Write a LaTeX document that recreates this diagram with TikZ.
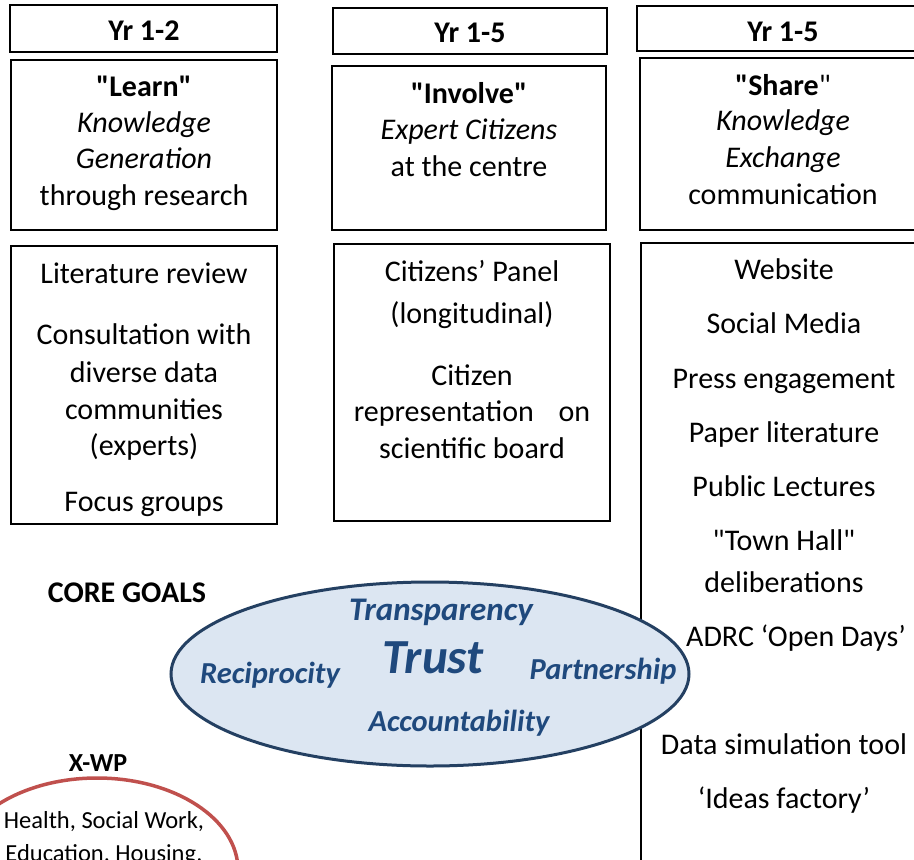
\documentclass[tikz,border=0pt]{standalone}
\usepackage{fontspec}
\setmainfont{Carlito}[Ligatures=TeXOff]
\newcommand\qmark{"}
\definecolor{navy}{RGB}{36,64,98}
\definecolor{paleblue}{RGB}{220,230,242}
\definecolor{goalblue}{RGB}{31,73,125}
\definecolor{redline}{RGB}{192,80,77}
\begin{document}
\begin{tikzpicture}[x=1pt,y=-1pt,
  boxy/.style={draw=black,line width=1.8pt},
  txt/.style={anchor=base,inner sep=0pt,font=\fontsize{30}{32}\selectfont},
  btxt/.style={anchor=base,inner sep=0pt,font=\fontsize{30}{32}\selectfont\bfseries},
  itxt/.style={anchor=base,inner sep=0pt,font=\fontsize{30}{32}\selectfont\itshape},
  goal/.style={anchor=base,inner sep=0pt,text=goalblue,font=\fontsize{30.5}{32}\selectfont\bfseries\itshape},
  small/.style={anchor=base,inner sep=0pt,font=\fontsize{24.5}{26}\selectfont}]
\useasboundingbox (0,0) rectangle (914,860);
\clip (0,0) rectangle (914,860);
\fill[white] (0,0) rectangle (914,860);
% boxes
\draw[boxy] (10,5) rectangle (277,52);
\draw[boxy] (11,60) rectangle (277,230);
\draw[boxy] (333,8) rectangle (607,54);
\draw[boxy] (332,66) rectangle (606,230);
\draw[boxy] (637,6) rectangle (920,51);
\draw[boxy] (640,58) rectangle (920,230);
\draw[boxy] (11,246) rectangle (277,524);
\draw[boxy] (334,244) rectangle (610,521);
\draw[boxy] (641,243) rectangle (920,880);
% column 1
\node[btxt] (yr1) at (144,40) {Yr 1-2};
\node[btxt] (learn) at (144,96) {\qmark Learn\qmark};
\node[itxt] (kg1) at (144,132) {Knowledge};
\node[itxt] (gen) at (144,168) {Generation};
\node[txt] (thr) at (144,205) {through research};
\node[txt] (lit) at (144,283) {Literature review};
\node[txt] (cons) at (144,344) {Consultation with};
\node[txt] (div) at (144,382) {diverse data};
\node[txt] (comm) at (144,419) {communities};
\node[txt] (exp) at (144,455) {(experts)};
\node[txt] (foc) at (144,511) {Focus groups};
% column 2
\node[btxt] (yr2) at (470,42) {Yr 1-5};
\node[btxt] (inv) at (469,103) {\qmark Involve\qmark};
\node[itxt] (expc) at (469,139) {Expert Citizens};
\node[txt] (cent) at (469,176) {at the centre};
\node[txt] (panel) at (472,281) {Citizens’ Panel};
\node[txt] (longi) at (472,323) {(longitudinal)};
\node[txt] (cit) at (472,385) {Citizen};
\node[txt] (repr) at (472,421) {representation\hspace{0.6em} on};
\node[txt] (sci) at (472,458) {scientific board};
% column 3
\node[btxt] (yr3) at (783,41) {Yr 1-5};
\node[anchor=base,inner sep=0pt,font=\fontsize{30}{32}\selectfont] (share) at (783,95) {\textbf{\qmark Share}\qmark};
\node[itxt] (kg2) at (783,130) {Knowledge};
\node[itxt] (exch) at (783,167) {Exchange};
\node[txt] (commu) at (783,204) {communication};
\node[txt] (web) at (784,279) {Website};
\node[txt] (soc) at (784,333) {Social Media};
\node[txt] (press) at (784,388) {Press engagement};
\node[txt] (paper) at (784,442) {Paper literature};
\node[txt] (pub) at (784,496) {Public Lectures};
\node[txt] (town) at (784,550) {\qmark Town Hall\qmark};
\node[txt] (delib) at (784,592) {deliberations};
\node[txt] (adrc) at (796,646) {ADRC ‘Open Days’};
\node[txt] (dst) at (784,754) {Data simulation tool};
\node[txt] (idea) at (784,808) {‘Ideas factory’};
% core goals
\node[btxt] (core) at (127,602) {CORE GOALS};
\draw[navy,fill=paleblue,line width=3pt] (430,674) ellipse [x radius=259pt,y radius=92pt];
\node[goal,font=\fontsize{33}{35}\selectfont\bfseries\itshape] (transp) at (441,620) {Transparency};
\node[goal,font=\fontsize{49}{51}\selectfont\bfseries\itshape] (trust) at (433,673) {Trust};
\node[goal] (recip) at (270,683) {Reciprocity};
\node[goal] (partn) at (603,679) {Partnership};
\node[goal] (acct) at (459,731) {Accountability};
% x-wp
\node[btxt,font=\fontsize{26}{28}\selectfont\bfseries] (xwp) at (98,771) {X-WP};
\draw[redline,line width=3.5pt] (97,870) ellipse [x radius=141pt,y radius=92pt];
\node[small] (hsw) at (104,828) {Health, Social Work,};
\node[small] (edu) at (104,861) {Education, Housing,};
\end{tikzpicture}
\end{document}
